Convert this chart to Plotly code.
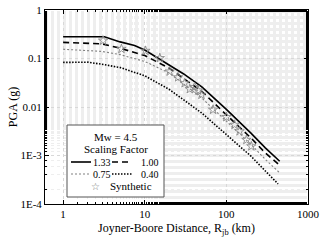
import plotly.graph_objects as go

# ---- data ----
r_133 = [1, 3.2, 5, 7.5, 10, 20, 30, 50, 100, 200, 300, 450]
pga_133 = [0.28, 0.28, 0.22, 0.185, 0.15, 0.074, 0.048, 0.026, 0.0089, 0.0029, 0.00144, 0.00076]

r_100 = [1, 3, 5, 10, 20, 30, 50, 100, 200, 300, 450]
pga_100 = [0.215, 0.2, 0.163, 0.115, 0.063, 0.039, 0.021, 0.0069, 0.0023, 0.00113, 0.00063]

r_075 = [1, 3, 5, 10, 20, 50, 100, 200, 300, 450]
pga_075 = [0.155, 0.14, 0.12, 0.087, 0.05, 0.0153, 0.0051, 0.0017, 0.00083, 0.00044]

r_040 = [1, 2, 3, 5, 10, 20, 50, 100, 200, 300, 430]
pga_040 = [0.083, 0.084, 0.076, 0.065, 0.044, 0.023, 0.0075, 0.0027, 0.00097, 0.00048, 0.00026]

r_syn = [3.09, 5.18, 10.2, 15.3, 20.2, 25.6, 30.8, 35.6, 40.8, 45, 49.5, 68.7, 100, 126, 145, 176, 202]
pga_syn = [0.234, 0.158, 0.144, 0.102, 0.054, 0.041, 0.031, 0.0234, 0.0258, 0.022, 0.0179,
           0.0088, 0.0062, 0.0043, 0.00316, 0.0021, 0.00155]

x_tickvals = [1, 10, 100, 1000]
x_ticktext = ["1", "10", "100", "1000"]
y_tickvals = [1, 0.1, 0.01, 0.001, 0.0001]
y_ticktext = ["1", "0.1", "0.01", "1E-3", "1E-4"]

FONT = "Liberation Serif, Times New Roman, serif"

fig = go.Figure()
fig.add_trace(go.Scatter(x=r_133, y=pga_133, mode="lines", name="1.33",
                         line=dict(color="black", width=1.6)))
fig.add_trace(go.Scatter(x=r_100, y=pga_100, mode="lines", name="1.00",
                         line=dict(color="black", width=1.6, dash="6px,4px")))
fig.add_trace(go.Scatter(x=r_075, y=pga_075, mode="lines", name="0.75",
                         line=dict(color="#808080", width=1.1, dash="2px,2px")))
fig.add_trace(go.Scatter(x=r_040, y=pga_040, mode="lines", name="0.40",
                         line=dict(color="black", width=1.6, dash="1.5px,1.5px")))
fig.add_trace(go.Scatter(x=r_syn, y=pga_syn, mode="markers", name="Synthetic",
                         marker=dict(symbol="star-open", size=7, color="#8a8a8a",
                                     line=dict(width=0.9))))

axis_common = dict(
    type="log", showline=True, linecolor="black", linewidth=1, mirror="allticks",
    ticks="inside", ticklen=4, tickcolor="black", showgrid=True, automargin=False,
    gridcolor="#d8d8d8", griddash="dot", gridwidth=1, zeroline=False,
    tickfont=dict(family=FONT, size=11, color="black"),
    minor=dict(ticks="inside", ticklen=2, tickcolor="black", showgrid=True,
               gridcolor="#eeeeee", griddash="dot"),
)

fig.update_xaxes(**axis_common, range=[-0.222, 3], tickvals=x_tickvals, ticktext=x_ticktext,
                 title=dict(text="Joyner-Boore Distance, R<sub>jb</sub> (km)",
                            font=dict(family=FONT, size=12, color="black"), standoff=4))
fig.update_yaxes(**axis_common, range=[-4, 0], tickvals=y_tickvals, ticktext=y_ticktext,
                 title=dict(text="PGA (g)", font=dict(family=FONT, size=12, color="black"),
                            standoff=0))

# ---- manual legend (two-column layout as in the reference) ----
L, R, T, B = 45, 308, 10, 204
def px(x):
    return (x - L) / (R - L)
def py(y):
    return (B - y) / (B - T)

shapes = [dict(type="rect", xref="paper", yref="paper", x0=px(67), x1=px(164), y0=py(197), y1=py(125),
               line=dict(color="#555555", width=1), fillcolor="white", layer="above")]
samples = [
    (71, 91, 162, dict(color="black", width=1.6)),
    (112, 132, 162, dict(color="black", width=1.6, dash="6px,4px")),
    (71, 91, 174, dict(color="#808080", width=1.1, dash="2px,2px")),
    (112, 132, 174, dict(color="black", width=1.4, dash="1.5px,1.5px")),
]
for x0, x1, yy, ln in samples:
    shapes.append(dict(type="line", xref="paper", yref="paper", x0=px(x0), x1=px(x1),
                       y0=py(yy), y1=py(yy), line=ln, layer="above"))

def ann(text, x, y, anchor="left", color="black", size=10):
    return dict(text=text, x=px(x), y=py(y), xref="paper", yref="paper", showarrow=False,
                xanchor=anchor, yanchor="middle", borderpad=0,
                font=dict(family=FONT, size=size, color=color))

annotations = [
    ann("Mw = 4.5", 115.5, 137, "center", size=11),
    ann("Scaling Factor", 115.5, 149, "center", size=11),
    ann("1.33", 92, 162),
    ann("1.00", 140, 162),
    ann("0.75", 92, 174),
    ann("0.40", 140, 174),
    ann("☆", 95, 186, "center", "#777777", 10),
    ann("Synthetic", 109, 186, size=11),
]

fig.update_layout(
    width=323, height=242, margin=dict(l=45, r=15, t=10, b=38),
    paper_bgcolor="white", plot_bgcolor="white", showlegend=False,
    shapes=shapes, annotations=annotations,
    font=dict(family=FONT, size=11, color="black"),
)

fig.write_html("out.html", config={"displayModeBar": False},
               post_script="document.body.style.margin='0px';document.body.style.overflow='hidden';")
